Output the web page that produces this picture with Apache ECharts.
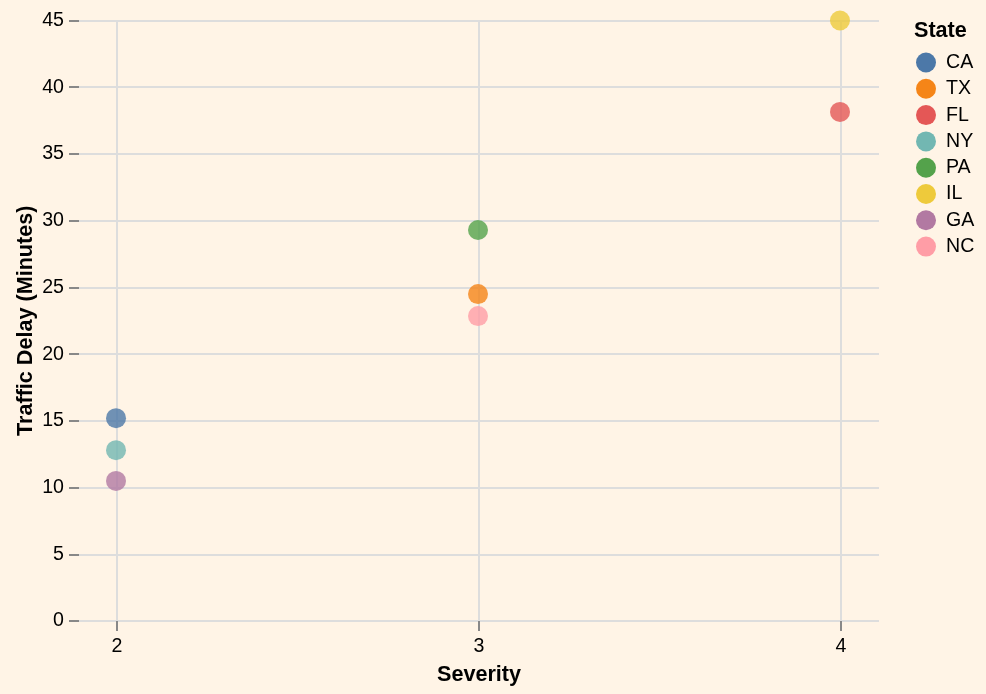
<!DOCTYPE html>
<html><head><meta charset="utf-8">
<style>html,body{margin:0;padding:0;background:#fff4e6}#c{width:986px;height:694px}</style>
<script src="https://cdn.jsdelivr.net/npm/echarts@6/dist/echarts.min.js"></script>
</head><body><div id="c"></div>
<script>
const states = ['CA','TX','FL','NY','PA','IL','GA','NC'];
const severity = [2,3,4,2,3,4,2,3];
const delay = [15.2,24.5,38.15,12.8,29.3,45,10.5,22.85];
const colors = ['#4c78a8','#f58518','#e45756','#72b7b2','#54a24b','#eeca3b','#b279a2','#ff9da6'];
const xTicks = [2,3,4];
const FONT = '"Liberation Sans", Arial, sans-serif';
const chart = echarts.init(document.getElementById('c'), null, {renderer:'canvas'});
chart.setOption({
  animation:false,
  backgroundColor:'#fff4e6',
  textStyle:{fontFamily:FONT},
  grid:{left:79,right:107,top:20.5,height:600.5,containLabel:false,outerBoundsMode:'none'},
  xAxis:{
    type:'value',min:1.895,max:4.105,containShape:false,
    name:'Severity',nameLocation:'middle',nameGap:43,nameMoveOverlap:false,
    nameTextStyle:{fontFamily:FONT,fontWeight:'bold',fontSize:21.6,color:'#000'},
    axisLine:{show:false},
    axisTick:{show:true,length:10,customValues:xTicks,lineStyle:{color:'#888',width:2}},
    axisLabel:{customValues:xTicks,margin:16,fontFamily:FONT,fontSize:19.6,color:'#000'},
    splitLine:{show:true,lineStyle:{color:'#ddd',width:2}}
  },
  yAxis:{
    type:'value',min:0,max:45,interval:5,containShape:false,
    name:'Traffic Delay (Minutes)',nameLocation:'middle',nameGap:42,nameRotate:90,nameMoveOverlap:false,
    nameTextStyle:{fontFamily:FONT,fontWeight:'bold',fontSize:21.6,color:'#000'},
    axisLine:{show:false},
    axisTick:{show:true,length:10,lineStyle:{color:'#888',width:2}},
    axisLabel:{margin:15,fontFamily:FONT,fontSize:19.6,color:'#000'},
    splitLine:{show:true,lineStyle:{color:'#ddd',width:2}}
  },
  title:{text:'State',left:914,top:20,padding:0,textStyle:{fontFamily:FONT,fontWeight:'bold',fontSize:21.6,color:'#000',lineHeight:22}},
  legend:{
    orient:'vertical',left:916,top:52.5,padding:0,
    itemWidth:20,itemHeight:20,itemGap:6.3,icon:'circle',
    itemStyle:{opacity:1},
    textStyle:{fontFamily:FONT,fontSize:19.6,color:'#000',padding:[0,0,0,5]},
    data:states
  },
  series:states.map((s,i)=>({
    name:s,type:'scatter',symbol:'circle',symbolSize:20,symbolOffset:[-1,0],
    itemStyle:{color:colors[i],opacity:0.8},
    data:[[severity[i],delay[i]]],
    clip:false
  }))
});
</script></body></html>
